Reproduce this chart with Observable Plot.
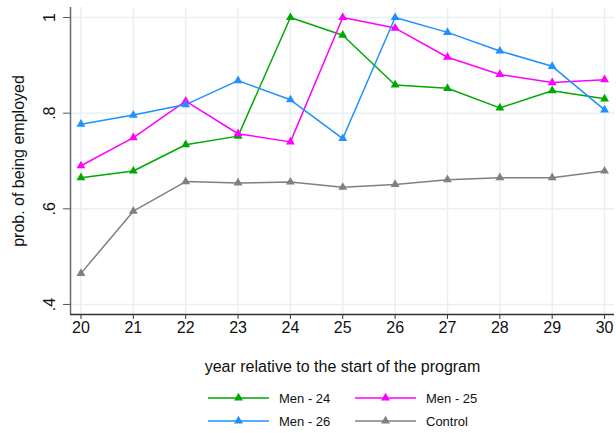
<!DOCTYPE html>
<html>
<head>
<meta charset="utf-8">
<script src="https://cdn.jsdelivr.net/npm/d3@7"></script>
<script src="https://cdn.jsdelivr.net/npm/@observablehq/plot@0.6"></script>
<style>
  html, body { margin: 0; padding: 0; background: #fff; }
  #wrap { position: relative; width: 616px; height: 433px; font-family: "Liberation Sans", Arial, sans-serif; }
  #legend { position: absolute; left: 0; top: 380px; width: 616px; height: 53px; }
  .item { position: absolute; height: 16px; display: flex; align-items: center; font-size: 13px; color: #111; }
  .item svg { display: block; }
  .item span { margin-left: 10px; }
</style>
</head>
<body>
<div id="wrap">
  <div id="chart"></div>
  <div id="legend"></div>
</div>
<script>
const years = [20, 21, 22, 23, 24, 25, 26, 27, 28, 29, 30];
const seriesNames = ["Men - 24", "Men - 25", "Men - 26", "Control"];
const seriesColors = ["#00a900", "#ff00ff", "#1e90ff", "#808080"];
const men24 = [0.665, 0.679, 0.734, 0.752, 1.000, 0.963, 0.859, 0.852, 0.811, 0.847, 0.830];
const men25 = [0.690, 0.749, 0.825, 0.757, 0.740, 1.000, 0.978, 0.917, 0.881, 0.864, 0.870];
const men26 = [0.777, 0.796, 0.818, 0.868, 0.828, 0.747, 1.000, 0.969, 0.930, 0.898, 0.807];
const control = [0.465, 0.595, 0.657, 0.654, 0.656, 0.645, 0.651, 0.661, 0.665, 0.665, 0.679];
const yTicks = [0.4, 0.6, 0.8, 1];
const yTickLabels = [".4", ".6", ".8", "1"];
const xTitle = "year relative to the start of the program";
const yTitle = "prob. of being employed";

const seriesValues = [men24, men25, men26, control];
const data = [];
seriesNames.forEach((name, s) => {
  years.forEach((yr, i) => data.push({series: name, year: yr, value: seriesValues[s][i]}));
});

const gridColor = "#e8f0f2";
const chart = Plot.plot({
  width: 616,
  height: 380,
  marginLeft: 70,
  marginRight: 2,
  marginTop: 7,
  marginBottom: 66,
  style: {fontFamily: "Liberation Sans, Arial, sans-serif", fontSize: "16px", color: "#111", background: "#fff"},
  x: {domain: [19.8, 30.19]},
  y: {domain: [0.379, 1.021]},
  color: {domain: seriesNames, range: seriesColors},
  marks: [
    Plot.gridX(years, {stroke: gridColor, strokeOpacity: 1, strokeWidth: 1.5}),
    Plot.gridY(yTicks, {stroke: gridColor, strokeOpacity: 1, strokeWidth: 1.5}),
    Plot.axisX(years, {tickSize: 5, tickPadding: 2, tickFormat: d => String(d), label: null, stroke: "#333"}),
    Plot.axisY(yTicks, {tickSize: 7, tickPadding: 9, tickRotate: -90, tickFormat: d => yTickLabels[yTicks.indexOf(d)], label: null, stroke: "#555"}),
    Plot.ruleX([19.8], {stroke: "#6a6a6a", strokeWidth: 1.5}),
    Plot.ruleY([0.379], {stroke: "#333", strokeWidth: 1.5}),
    Plot.text([xTitle], {frameAnchor: "bottom", dy: 52, textAnchor: "middle", lineAnchor: "middle", fontSize: 16, fill: "#111"}),
    Plot.text([yTitle], {frameAnchor: "left", dx: -52, rotate: -90, textAnchor: "middle", lineAnchor: "middle", fontSize: 16, fill: "#111"}),
    Plot.line(data, {x: "year", y: "value", z: "series", stroke: "series", strokeWidth: 1.5}),
    Plot.dot(data, {x: "year", y: "value", fill: "series", symbol: "triangle", r: 3.3, stroke: null})
  ]
});
document.getElementById("chart").appendChild(chart);

// legend
const legend = document.getElementById("legend");
const positions = [
  {left: 208, top: 10}, {left: 355, top: 10},
  {left: 208, top: 33}, {left: 355, top: 33}
];
seriesNames.forEach((name, i) => {
  const div = document.createElement("div");
  div.className = "item";
  div.style.left = positions[i].left + "px";
  div.style.top = positions[i].top + "px";
  const c = seriesColors[i];
  div.innerHTML = `<svg width="61" height="16"><line x1="0" x2="61" y1="8" y2="8" stroke="${c}" stroke-width="1.5"/><path d="${d3.symbol(d3.symbolTriangle, Math.PI*3.3*3.3)()}" transform="translate(30.5,8)" fill="${c}"/></svg><span>${name}</span>`;
  legend.appendChild(div);
});
</script>
</body>
</html>
